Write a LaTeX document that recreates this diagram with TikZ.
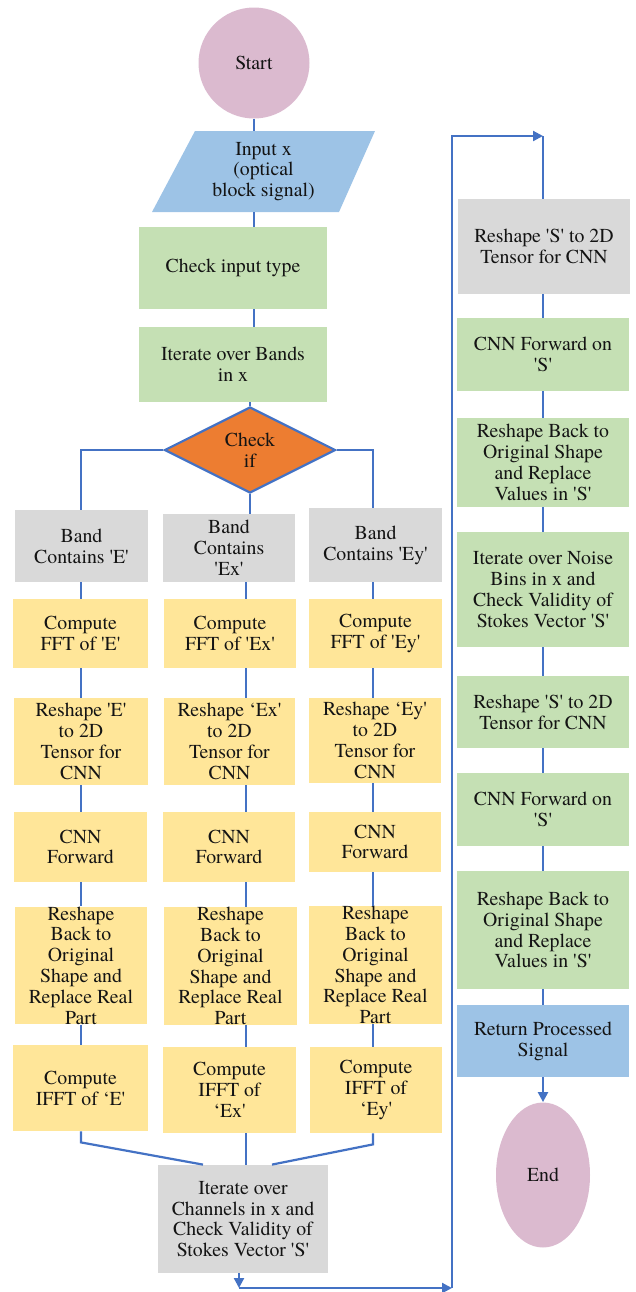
\documentclass[tikz,border=0pt]{standalone}
\usepackage{fontspec}
\IfFontExistsTF{texgyretermes-regular.otf}
  {\setmainfont{texgyretermes-regular.otf}[BoldFont=texgyretermes-bold.otf]}
  {}
\usetikzlibrary{shapes.geometric,arrows.meta}
\definecolor{lnblue}{HTML}{4472C4}
\definecolor{pinkc}{HTML}{DBBACF}
\definecolor{bluec}{HTML}{9DC3E6}
\definecolor{greenc}{HTML}{C5E0B4}
\definecolor{grayc}{HTML}{D9D9D9}
\definecolor{yelc}{HTML}{FFE699}
\definecolor{orangec}{HTML}{ED7D31}
\definecolor{txtc}{HTML}{141414}
\newcommand\sqt{\textquotesingle}
\newcommand\lqt{‘}
\newcommand\mybox[7]{\node[#2, minimum width={(#5-#3)*0.5pt}, minimum height={(#6-#4)*0.5pt}] (#1) at ({(#3+#5)/2},{(#4+#6)/2}) {#7};}
\tikzset{
  base/.style={rectangle, inner sep=0pt, align=center},
  gbox/.style={base, fill=greenc},
  graybox/.style={base, fill=grayc},
  ybox/.style={base, fill=yelc},
  bbox/.style={base, fill=bluec},
  term/.style={ellipse, fill=pinkc, inner sep=0pt},
  ln/.style={draw=lnblue, line width=1.1pt},
  arr/.style={ln, -{Triangle[width=5pt,length=5pt]}}
}
\begin{document}
\begin{tikzpicture}[x=0.5pt, y=-0.5pt, font=\rmfamily\fontsize{9.9pt}{10.4pt}\selectfont, text=txtc]
\useasboundingbox (0,0) rectangle (636,1292);
\coordinate (L0) at (254,0);
\coordinate (L1) at (81,0);
\coordinate (L2) at (246,0);
\coordinate (L3) at (373,0);
\coordinate (LR) at (543,0);
\coordinate (B1) at (239,1288);
\coordinate (B2) at (452,1288);
\coordinate (B3) at (452,136);
\coordinate (B4) at (543,136);

% left / main column
\node[term, minimum width=55.5pt, minimum height=55.5pt] (start) at (254,63) {Start};
\fill[bluec] (195,131) -- (375,131) -- (339,212) -- (152,212) -- cycle;
\mybox{input}{base}{152}{131}{375}{212}{Input x\\(optical\\block signal)}
\mybox{checkt}{gbox}{139}{227}{327}{309}{Check input type}
\mybox{iterb}{gbox}{139}{327}{327}{402}{Iterate over Bands\\in x}
\node[diamond, fill=orangec, draw=lnblue, line width=1.1pt, aspect=2, minimum width=85.5pt, minimum height=43pt, inner sep=0pt, align=center] (dia) at (250,450) {Check\\if};

\mybox{b1}{graybox}{15}{510}{148}{582}{Band\\Contains \sqt E\sqt}
\mybox{b2}{graybox}{163}{514}{295}{582}{Band\\Contains\\\sqt Ex\sqt}
\mybox{b3}{graybox}{309}{508}{442}{582}{Band\\Contains \sqt Ey\sqt}

\mybox{f1}{ybox}{13}{599}{148}{668}{Compute\\FFT of \sqt E\sqt}
\mybox{f2}{ybox}{164}{599}{296}{668}{Compute\\FFT of \sqt Ex\sqt}
\mybox{f3}{ybox}{309}{599}{442}{668}{Compute\\FFT of \sqt Ey\sqt}

\mybox{r1}{ybox}{14}{698}{148}{785}{Reshape \sqt E\sqt\\to 2D\\Tensor for\\CNN}
\mybox{r2}{ybox}{164}{698}{295}{785}{Reshape \lqt Ex\sqt\\to 2D\\Tensor for\\CNN}
\mybox{r3}{ybox}{309}{698}{441}{783}{Reshape \lqt Ey\sqt\\to 2D\\Tensor for\\CNN}

\mybox{c1}{ybox}{14}{812}{147}{882}{CNN\\Forward}
\mybox{c2}{ybox}{163}{812}{295}{882}{CNN\\Forward}
\mybox{c3}{ybox}{309}{812}{441}{872}{CNN\\Forward}

\mybox{k1}{ybox}{15}{908}{147}{1023}{Reshape\\Back to\\Original\\Shape and\\Replace Real\\Part}
\mybox{k2}{ybox}{164}{909}{297}{1023}{Reshape\\Back to\\Original\\Shape and\\Replace Real\\Part}
\mybox{k3}{ybox}{309}{908}{442}{1022}{Reshape\\Back to\\Original\\Shape and\\Replace Real\\Part}

\mybox{i1}{ybox}{13}{1045}{148}{1131}{Compute\\IFFT of \lqt E\sqt}
\mybox{i2}{ybox}{163}{1047}{296}{1133}{Compute\\IFFT of\\\lqt Ex\sqt}
\mybox{i3}{ybox}{310}{1047}{442}{1133}{Compute\\IFFT of\\\lqt Ey\sqt}

\mybox{ch}{graybox}{158}{1165}{328}{1273}{Iterate over\\Channels in x and\\Check Validity of\\Stokes Vector \sqt S\sqt}

% right column
\mybox{s1}{graybox}{458}{199}{630}{294}{Reshape \sqt S\sqt{} to 2D\\Tensor for CNN}
\mybox{s2}{gbox}{457}{318}{629}{391}{CNN Forward on\\\sqt S\sqt}
\mybox{s3}{gbox}{457}{418}{629}{507}{Reshape Back to\\Original Shape\\and Replace\\Values in \sqt S\sqt}
\mybox{s4}{gbox}{457}{532}{629}{647}{Iterate over Noise\\Bins in x and\\Check Validity of\\Stokes Vector \sqt S\sqt}
\mybox{s5}{gbox}{457}{676}{629}{748}{Reshape \sqt S\sqt{} to 2D\\Tensor for CNN}
\mybox{s6}{gbox}{457}{773}{629}{846}{CNN Forward on\\\sqt S\sqt}
\mybox{s7}{gbox}{457}{871}{629}{989}{Reshape Back to\\Original Shape\\and Replace\\Values in \sqt S\sqt}
\mybox{ret}{bbox}{457}{1005}{629}{1077}{Return Processed\\Signal}
\node[term, minimum width=47pt, minimum height=72.5pt] (endn) at (543,1175) {End};

% connectors
\draw[ln] (start.south) -- (start.south |- input.north);
\draw[ln] (L0 |- input.south) -- (L0 |- checkt.north);
\draw[ln] (L0 |- checkt.south) -- (L0 |- iterb.north);
\draw[ln] (dia.north) -- (dia.north |- iterb.south);
\draw[ln] (dia.west) -| (L1 |- b1.north);
\draw[ln] (dia.east) -| (L3 |- b3.north);
\draw[ln] (dia.south) -- (dia.south |- b2.north);
\foreach \c/\L in {1/L1,2/L2,3/L3}{
  \draw[ln] (\L |- b\c.south) -- (\L |- f\c.north);
  \draw[ln] (\L |- f\c.south) -- (\L |- r\c.north);
  \draw[ln] (\L |- r\c.south) -- (\L |- c\c.north);
  \draw[ln] (\L |- c\c.south) -- (\L |- k\c.north);
  \draw[ln] (\L |- k\c.south) -- (\L |- i\c.north);
}
\draw[ln] (L1 |- i1.south) -- ++(0,11) -- ([xshift=-20pt]ch.north);
\draw[ln] (L2 |- i2.south) -- (L2 |- ch.north);
\draw[ln] (L3 |- i3.south) -- ++(0,11) -- ([xshift=14.5pt]ch.north);

\draw[arr] (B1 |- ch.south) -- (B1);
\draw[arr] (B1) -- (B2);
\draw[arr] (B2) -- (B3) -- (B4);
\draw[ln] (B4) -- (B4 |- s1.north);
\foreach \a/\b in {s1/s2,s2/s3,s3/s4,s4/s5,s5/s6,s6/s7,s7/ret}{
  \draw[ln] (LR |- \a.south) -- (LR |- \b.north);
}
\draw[arr] (LR |- ret.south) -- (endn.north);
\end{tikzpicture}
\end{document}
